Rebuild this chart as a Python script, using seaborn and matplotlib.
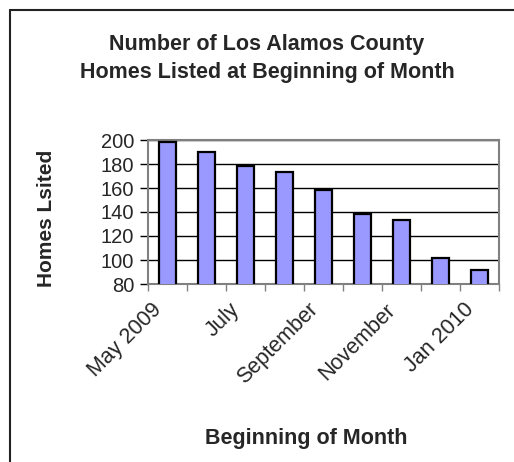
import matplotlib
matplotlib.use("Agg")
import matplotlib.pyplot as plt
from matplotlib.lines import Line2D
import seaborn as sns
import pandas as pd

# ---- data ----
months = ["May 2009", "June", "July", "August", "September",
          "October", "November", "December", "Jan 2010"]
homes = [198, 190, 178, 173, 158, 138, 133, 102, 92]
shown_labels = ["May 2009", "", "July", "", "September", "", "November", "", "Jan 2010"]
y_ticks = [80, 100, 120, 140, 160, 180, 200]

title_lines = ["Number of Los Alamos County", "Homes Listed at Beginning of Month"]
x_title = "Beginning of Month"
y_title = "Homes Lsited"

sns.set_style("white")
plt.rcParams["font.family"] = ["Liberation Sans", "DejaVu Sans"]

W, H = 514, 462
fig = plt.figure(figsize=(W / 100, H / 100), dpi=100)
ax = fig.add_axes([148 / W, 1 - 284 / H, 351 / W, 144 / H])

df = pd.DataFrame({"month": months, "homes": homes})
sns.barplot(data=df, x="month", y="homes", color="#9999FF", saturation=1,
            edgecolor="black", linewidth=1.6, width=0.42, ax=ax, zorder=3)

ax.set_ylim(80, 200)
ax.set_xlim(-0.5, len(months) - 0.5)
ax.set_yticks(y_ticks)
ax.set_yticklabels([str(v) for v in y_ticks], fontsize=14.5)

# labelled ticks (invisible marks); text anchored slightly left of bar centre
idx = [i for i, l in enumerate(shown_labels) if l]
ax.set_xticks([i - 0.42 for i in idx])
ax.set_xticklabels([shown_labels[i] for i in idx], fontsize=15.5,
                   rotation=45, ha="right", rotation_mode="anchor")
ax.set_xticks([i - 0.5 for i in range(len(months) + 1)], minor=True)
ax.tick_params(axis="x", which="major", length=0, pad=11)
ax.tick_params(axis="x", which="minor", length=5, width=1, color="#808080",
               direction="out", bottom=True)
ax.tick_params(axis="y", which="major", length=6, width=1, color="black",
               direction="out", left=True, pad=4)

ax.set_axisbelow(True)
ax.yaxis.grid(True, color="black", linewidth=1)
ax.xaxis.grid(False)
for s in ax.spines.values():
    s.set_visible(True)
    s.set_color("#808080")
    s.set_linewidth(1.5)

ax.set_xlabel("")
ax.set_ylabel("")

fig.text(267 / W, 1 - 50 / H, title_lines[0], ha="center", va="baseline",
         fontsize=15.5, fontweight="bold")
fig.text(267 / W, 1 - 78 / H, title_lines[1], ha="center", va="baseline",
         fontsize=15.5, fontweight="bold")
fig.text(306 / W, 1 - 444 / H, x_title, ha="center", va="baseline",
         fontsize=15.5, fontweight="bold")
fig.text(47 / W, 1 - 218 / H, y_title, ha="center", va="center",
         rotation=90, fontsize=15, fontweight="bold")

# outer chart border (top and left visible)
bx = 9.5 / W
by = 1 - 10 / H
fig.add_artist(Line2D([bx, bx], [0, by], color="#222222", linewidth=1.5,
                      transform=fig.transFigure))
fig.add_artist(Line2D([bx, 1], [by, by], color="#222222", linewidth=1.5,
                      transform=fig.transFigure))

fig.savefig("out.png", dpi=100)
